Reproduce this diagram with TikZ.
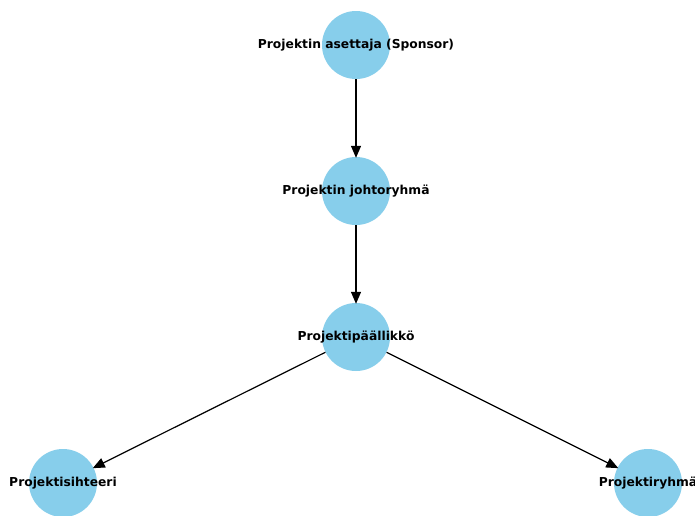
\documentclass[tikz,border=0pt]{standalone}
\usepackage{fontspec}
\setmainfont{DejaVu Sans}
\usetikzlibrary{arrows.meta}
\definecolor{skyblue}{HTML}{87CEEB}
\begin{document}
\begin{tikzpicture}[x=1pt,y=-1pt,
  role/.style={circle,fill=skyblue,minimum size=68pt,inner sep=0pt},
  lbl/.style={font=\bfseries\fontsize{12.3}{14}\selectfont,inner sep=0pt},
  link/.style={-{Triangle[length=12pt,width=10pt]},line width=1.2pt,shorten >=-1pt}]
\useasboundingbox (0,0) rectangle (695,515);
\clip (0,0) rectangle (695,515);
\fill[white] (0,0) rectangle (695,515);

% role circles
\node[role] (sponsor)   at (356,45)  {};
\node[role] (steering)  at (356,191) {};
\node[role] (manager)   at (356,337) {};
\node[role] (secretary) at (63,483)  {};
\node[role] (team)      at (648,483) {};

% reporting lines
\draw[link] (sponsor)  -- (steering);
\draw[link] (steering) -- (manager);
\draw[link] (manager)  -- (secretary);
\draw[link] (manager)  -- (team);

% role names
\node[lbl] (sponsorT)   at (sponsor)   {Projektin asettaja (Sponsor)};
\node[lbl] (steeringT)  at (steering)  {Projektin johtoryhmä};
\node[lbl] (managerT)   at (manager)   {Projektipäällikkö};
\node[lbl] (secretaryT) at (secretary) {Projektisihteeri};
\node[lbl] (teamT)      at (team)      {Projektiryhmä};
\end{tikzpicture}
\end{document}
